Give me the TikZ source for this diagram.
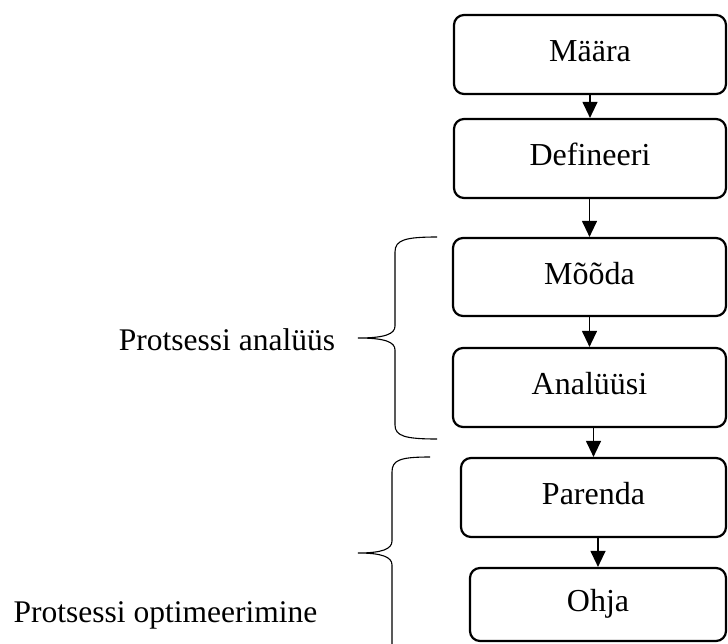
\documentclass[tikz,border=0pt]{standalone}
\usepackage{fontspec}
\setmainfont{Liberation Serif}
\usetikzlibrary{arrows.meta}
\begin{document}
\begin{tikzpicture}[x=1pt,y=-1pt,
  stepbox/.style={draw,line width=2.2pt,rounded corners=10pt,inner sep=0pt,
    font=\fontsize{32}{36}\selectfont,text height=21pt,text depth=7pt},
  flow/.style={line width=1.2pt,-{Triangle[length=16pt,width=15pt]}},
  brace/.style={line width=1.1pt},
  lab/.style={font=\fontsize{31.5}{36}\selectfont,inner sep=0pt,anchor=base}]
\useasboundingbox (0,0) rectangle (728,643);
\node[stepbox,minimum width=272pt,minimum height=79pt] (b1) at (590,54.5) {Määra};
\node[stepbox,minimum width=272pt,minimum height=79pt] (b2) at (590,158.5) {Defineeri};
\node[stepbox,minimum width=273pt,minimum height=78pt] (b3) at (589.5,277) {Mõõda};
\node[stepbox,minimum width=273pt,minimum height=79pt] (b4) at (589.5,387.5) {Analüüsi};
\node[stepbox,minimum width=265pt,minimum height=79pt] (b5) at (593.5,497.5) {Parenda};
\node[stepbox,minimum width=256pt,minimum height=73pt] (b6) at (598,604.5) {Ohja};
\draw[flow] (b2.north |- b1.south) -- (b2.north);
\draw[flow] (b3.north |- b2.south) -- (b3.north);
\draw[flow] (b4.north |- b3.south) -- (b4.north);
\draw[flow] (b5.north |- b4.south) -- (b5.north);
\draw[flow] (b6.north |- b5.south) -- (b6.north);
\node[lab] (l1) at (227,350) {Protsessi analüüs};
\node[lab] (l2) at (165.5,622) {Protsessi optimeerimine};
\coordinate (t1) at (358,338);
\draw[brace] (437,237) .. controls (405,237) and (395,240) .. (395,252)
  -- (395,326) .. controls (395,334) and (385,338) .. (t1)
  .. controls (385,338) and (395,342) .. (395,350)
  -- (395,425) .. controls (395,436) and (405,439) .. (437,439);
\coordinate (t2) at (358,553);
\draw[brace] (430,457) .. controls (400,457) and (392,460) .. (392,472)
  -- (392,541) .. controls (392,549) and (382,553) .. (t2)
  .. controls (382,553) and (392,557) .. (392,565)
  -- (392,645);
\end{tikzpicture}
\end{document}
